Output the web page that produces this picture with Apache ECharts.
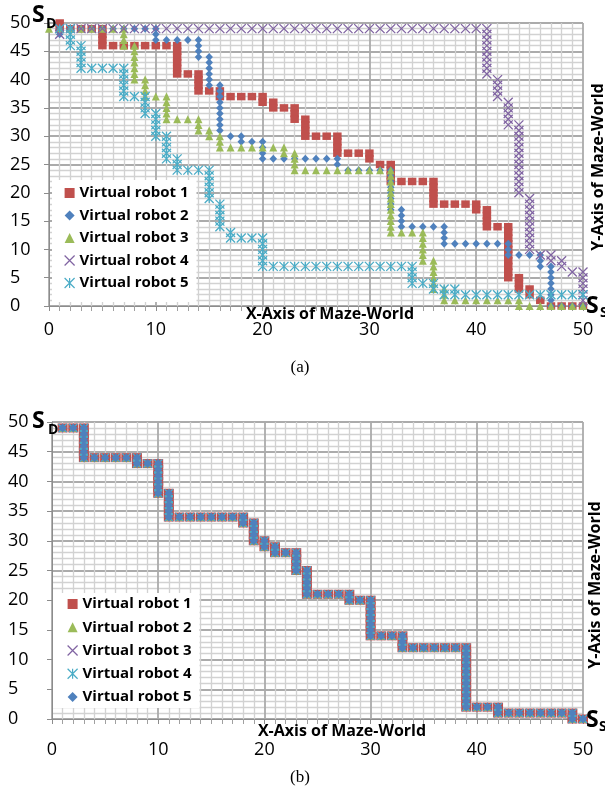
<!DOCTYPE html>
<html>
<head>
<meta charset="utf-8">
<script src="https://cdn.jsdelivr.net/npm/echarts@6/dist/echarts.min.js"></script>
<style>
html,body{margin:0;padding:0;background:#fff;}
#main{width:605px;height:794px;}
</style>
</head>
<body>
<div id="main"></div>
<script>
// ---------- DATA ----------
const xTicks = [0, 10, 20, 30, 40, 50];
const yTicks = [0, 5, 10, 15, 20, 25, 30, 35, 40, 45, 50];
const robotNamesA = ['Virtual robot 1', 'Virtual robot 2', 'Virtual robot 3', 'Virtual robot 4', 'Virtual robot 5'];
const robotNamesB = ['Virtual robot 1', 'Virtual robot 2', 'Virtual robot 3', 'Virtual robot 4', 'Virtual robot 5'];

// Panel (a): path cells visited by each robot [x, y]
const robotA1 = [[1,50],[1,49],[2,49],[3,49],[4,49],[5,49],[5,48],[5,47],[5,46],[6,46],[7,46],[8,46],[9,46],[10,46],[11,46],
 [12,46],[12,45],[12,44],[12,43],[12,42],[12,41],[13,41],[14,41],[14,40],[14,39],[14,38],[15,38],[16,38],[16,37],[17,37],
 [18,37],[19,37],[20,37],[20,36],[21,36],[21,35],[22,35],[23,35],[23,34],[23,33],[24,33],[24,32],[24,31],[24,30],[25,30],
 [26,30],[27,30],[27,29],[27,28],[27,27],[28,27],[29,27],[30,27],[30,26],[31,25],[32,25],[32,24],[32,23],[32,22],[33,22],
 [34,22],[35,22],[36,22],[36,21],[36,20],[36,19],[36,18],[37,18],[38,18],[39,18],[40,18],[40,17],[41,17],[41,16],[41,15],
 [41,14],[42,14],[43,14],[43,13],[43,12],[43,11],[43,10],[43,9],[43,8],[43,7],[43,6],[43,5],[44,5],[44,4],[44,3],[45,3],
 [45,2],[46,1],[47,0],[48,0],[49,0],[50,0]];
const robotA2 = [[1,49],[1,48],[2,49],[3,49],[4,49],[5,49],[6,49],[7,49],[8,49],[9,49],[10,49],[10,48],[10,47],[11,47],[12,47],
 [13,47],[14,47],[14,46],[14,45],[14,44],[15,44],[15,43],[15,42],[15,41],[15,40],[15,39],[16,39],[16,38],[16,37],[16,36],
 [16,35],[16,34],[16,33],[16,32],[16,31],[17,30],[18,30],[18,29],[19,29],[20,29],[20,28],[20,27],[20,26],[21,26],[22,26],
 [23,26],[24,26],[25,26],[26,26],[27,26],[27,25],[28,24],[29,24],[30,24],[31,24],[32,24],[32,23],[32,22],[32,21],[32,20],
 [32,19],[32,18],[32,17],[33,17],[33,16],[33,15],[33,14],[34,14],[35,14],[36,14],[37,14],[37,13],[37,12],[37,11],[38,11],
 [39,11],[40,11],[41,11],[42,11],[43,11],[43,10],[43,9],[44,9],[45,9],[46,9],[46,8],[46,7],[47,7],[47,6],[47,5],[47,4],
 [47,3],[47,2],[47,1],[47,0],[48,0],[49,0],[50,0]];
const robotA3 = [[0,49],[1,49],[2,49],[3,49],[4,49],[5,49],[6,49],[7,49],[7,48],[7,47],[7,46],[8,46],[8,45],[8,44],[8,43],
 [8,42],[8,41],[8,40],[9,40],[9,39],[9,38],[9,37],[10,37],[11,37],[11,36],[11,35],[11,34],[11,33],[12,33],[13,33],[14,33],
 [14,32],[14,31],[15,31],[15,30],[16,30],[16,29],[16,28],[17,28],[18,28],[19,28],[20,28],[21,28],[22,28],[22,27],[23,27],
 [23,26],[23,25],[23,24],[24,24],[25,24],[26,24],[27,24],[28,24],[29,24],[30,24],[31,24],[32,24],[32,23],[32,22],[32,21],
 [32,20],[32,19],[32,18],[32,17],[32,16],[32,15],[32,14],[32,13],[33,13],[34,13],[35,13],[35,12],[35,11],[35,10],[35,9],
 [35,8],[36,8],[36,7],[36,6],[36,5],[36,4],[36,3],[37,3],[37,2],[37,1],[38,1],[39,1],[40,1],[41,1],[42,1],[43,1],[44,1],
 [44,0],[45,0],[46,0],[47,0],[48,0],[49,0],[50,0]];
const robotA4 = [[1,48],[1,49],[2,49],[3,49],[4,49],[5,49],[6,49],[7,49],[8,49],[9,49],[10,49],[11,49],[12,49],[13,49],
 [14,49],[15,49],[16,49],[17,49],[18,49],[19,49],[20,49],[21,49],[22,49],[23,49],[24,49],[25,49],[26,49],[27,49],[28,49],
 [29,49],[30,49],[31,49],[32,49],[33,49],[34,49],[35,49],[36,49],[37,49],[38,49],[39,49],[40,49],[41,49],[41,48],[41,47],
 [41,46],[41,45],[41,44],[41,43],[41,42],[41,41],[42,40],[42,39],[42,38],[42,37],[43,36],[43,35],[43,34],[43,33],[43,32],
 [44,32],[44,31],[44,30],[44,29],[44,28],[44,27],[44,26],[44,25],[44,24],[44,23],[44,22],[44,21],[44,20],[45,19],[45,18],
 [45,17],[45,16],[45,15],[45,14],[45,13],[45,12],[45,11],[45,10],[46,9],[47,9],[47,8],[48,8],[48,7],[49,6],[50,6],[50,5],
 [50,4],[50,3],[50,2],[50,1]];
const robotA5 = [[1,49],[2,49],[2,48],[2,47],[2,46],[3,46],[3,45],[3,44],[3,43],[3,42],[4,42],[5,42],[6,42],[7,42],[7,41],
 [7,40],[7,39],[7,38],[7,37],[8,37],[9,37],[9,36],[9,35],[9,34],[10,34],[10,33],[10,32],[10,31],[10,30],[11,30],[11,29],
 [11,28],[11,27],[11,26],[12,26],[12,25],[12,24],[13,24],[14,24],[15,24],[15,23],[15,22],[15,21],[15,20],[15,19],[16,18],
 [16,17],[16,16],[16,15],[16,14],[17,13],[17,12],[18,12],[19,12],[20,12],[20,11],[20,10],[20,9],[20,8],[20,7],[21,7],
 [22,7],[23,7],[24,7],[25,7],[26,7],[27,7],[28,7],[29,7],[30,7],[31,7],[32,7],[33,7],[34,7],[34,6],[34,5],[34,4],[35,4],
 [36,4],[36,3],[37,3],[37,2],[38,3],[38,2],[39,2],[40,2],[41,2],[42,2],[43,2],[44,2],[45,2],[46,2],[47,2],[48,2],[49,2],
 [50,2]];

// Panel (b): all five robots follow the same path
const pathB = [[1,49],[2,49],[3,49],[3,48],[3,47],[3,46],[3,45],[3,44],[4,44],[5,44],[6,44],[7,44],[8,44],[8,43],[9,43],
 [10,43],[10,42],[10,41],[10,40],[10,39],[10,38],[11,38],[11,37],[11,36],[11,35],[11,34],[12,34],[13,34],[14,34],[15,34],
 [16,34],[17,34],[18,34],[18,33],[19,33],[19,32],[19,31],[19,30],[20,30],[20,29],[21,29],[21,28],[22,28],[23,28],[23,27],
 [23,26],[23,25],[24,25],[24,24],[24,23],[24,22],[24,21],[25,21],[26,21],[27,21],[28,21],[28,20],[29,20],[30,20],[30,19],
 [30,18],[30,17],[30,16],[30,15],[30,14],[31,14],[32,14],[33,14],[33,13],[33,12],[34,12],[35,12],[36,12],[37,12],[38,12],
 [39,12],[39,11],[39,10],[39,9],[39,8],[39,7],[39,6],[39,5],[39,4],[39,3],[39,2],[40,2],[41,2],[42,2],[42,1],[43,1],
 [44,1],[45,1],[46,1],[47,1],[48,1],[49,1],[49,0],[50,0]];
const robotB1 = pathB, robotB2 = pathB, robotB3 = pathB, robotB4 = pathB, robotB5 = pathB;

// ---------- STYLE ----------
const FONT = "'Open Sans', sans-serif";
const C = {red:'#C0504D', blue:'#4F81BD', green:'#9BBB59', purple:'#8064A2', cyan:'#4BACC6'};
const SYM_X = 'path://M0,0L10,10M10,0L0,10';
const SYM_STAR = 'path://M0,0L10,10M10,0L0,10M5,0L5,10';

function filled(color){ return {color: color, borderWidth: 0, opacity: 1}; }
function stroked(color){ return {color: 'rgba(0,0,0,0)', borderColor: color, borderWidth: 1.3, opacity: 1}; }

function makeAxes(gi, labelMarginX, labelMarginY){
  const x = {
    gridIndex: gi, type: 'value', min: 0, max: 50, interval: 10,
    axisLine: {show: true, onZero: false, lineStyle: {color: '#8c8c8c', width: 1}},
    axisTick: {show: true, length: 5, lineStyle: {color: '#8c8c8c'}},
    minorTick: {show: true, splitNumber: 10, length: 5, lineStyle: {color: '#a0a0a0'}},
    splitLine: {show: true, lineStyle: {color: '#ababab', width: 1.8}},
    minorSplitLine: {show: true, lineStyle: {color: '#d2d2d2', width: 1.3}},
    axisLabel: {margin: labelMarginX, fontSize: 18, color: '#000', fontFamily: FONT,
      formatter: v => xTicks.indexOf(v) >= 0 ? String(v) : ''}
  };
  const y = {
    gridIndex: gi, type: 'value', min: 0, max: 50, interval: 5,
    axisLine: {show: true, onZero: false, lineStyle: {color: '#8c8c8c', width: 1}},
    axisTick: {show: true, length: 5, lineStyle: {color: '#8c8c8c'}},
    minorTick: {show: false, splitNumber: 5},
    splitLine: {show: true, lineStyle: {color: '#ababab', width: 1.8}},
    minorSplitLine: {show: true, lineStyle: {color: '#d2d2d2', width: 1.3}},
    axisLabel: {margin: labelMarginY, align: 'left', fontSize: 18, color: '#000', fontFamily: FONT,
      formatter: v => yTicks.indexOf(v) >= 0 ? String(v) : ''}
  };
  return [x, y];
}
const [xA, yA] = makeAxes(0, 15, 39);
const [xB, yB] = makeAxes(1, 22, 44);

function sc(name, gi, data, symbol, size, style){
  return {name: name, type: 'scatter', xAxisIndex: gi, yAxisIndex: gi, data: data,
    symbol: symbol, symbolSize: size, itemStyle: style, silent: true, animation: false};
}

const seriesA = [
  sc(robotNamesA[0], 0, robotA1, 'rect', [8.5, 7.5], filled(C.red)),
  sc(robotNamesA[1], 0, robotA2, 'diamond', [7.5, 8], filled(C.blue)),
  sc(robotNamesA[2], 0, robotA3, 'triangle', [8, 8], filled(C.green)),
  sc(robotNamesA[3], 0, robotA4, SYM_X, [9, 9], stroked(C.purple)),
  sc(robotNamesA[4], 0, robotA5, SYM_STAR, [9, 9], stroked(C.cyan))
];
const PB = 'b:';
const seriesB = [
  sc(PB + robotNamesB[0], 1, robotB1, 'rect', [10, 9], filled(C.red)),
  sc(PB + robotNamesB[1], 1, robotB2, 'triangle', [8, 8], filled(C.green)),
  sc(PB + robotNamesB[2], 1, robotB3, SYM_X, [8, 8], stroked(C.purple)),
  sc(PB + robotNamesB[3], 1, robotB4, SYM_STAR, [8, 8], stroked(C.cyan)),
  sc(PB + robotNamesB[4], 1, robotB5, 'diamond', [8.5, 9], filled(C.blue))
];

function legendItems(names, prefix, symbols){
  return names.map((n, i) => ({
    name: prefix + n,
    icon: symbols[i],
    itemStyle: (symbols[i].indexOf('path://') === 0) ? {borderWidth: 1.2, opacity: 1} : {borderWidth: 0, opacity: 1}
  }));
}

const legendText = {fontSize: 15, fontWeight: 'bold', color: '#000', fontFamily: FONT, lineHeight: 18};

const txt = (x, y, text, size, opts) => Object.assign({
  type: 'text', x: x, y: y, z: 100,
  style: Object.assign({text: text, fontSize: size, fontFamily: FONT, fontWeight: 'bold', fill: '#000',
    align: 'left', verticalAlign: 'middle', textAlign: 'left', textVerticalAlign: 'middle'}, (opts && opts.style) || {})
}, (opts && opts.el) || {});

const option = {
  backgroundColor: '#fff',
  animation: false,
  grid: [
    {left: 49, top: 23, width: 534, height: 283, containLabel: false},
    {left: 52, top: 422, width: 531, height: 297, containLabel: false}
  ],
  xAxis: [xA, xB],
  yAxis: [yA, yB],
  legend: [
    {left: 52, top: 180, orient: 'vertical', backgroundColor: '#fff', padding: [4, 8, 10, 12],
     itemWidth: 10, itemHeight: 10, itemGap: 4.5, textStyle: legendText, selectedMode: false,
     data: legendItems(robotNamesA, '', ['rect', 'diamond', 'triangle', SYM_X, SYM_STAR])},
    {left: 53, top: 593, orient: 'vertical', backgroundColor: '#fff', padding: [2, 8, 2, 14],
     itemWidth: 10, itemHeight: 10, itemGap: 5.25, textStyle: legendText, selectedMode: false,
     formatter: n => n.slice(PB.length),
     data: legendItems(robotNamesB, PB, ['rect', 'triangle', SYM_X, SYM_STAR, 'diamond'])}
  ],
  graphic: {elements: [
    // panel (a)
    txt(32, 15, 'S', 23),
    txt(46, 24, 'D', 14),
    txt(586, 306, 'S', 23),
    txt(600, 313, 'S', 14),
    txt(330, 314, 'X-Axis of Maze-World', 16, {style: {align: 'center', textAlign: 'center'}}),
    txt(598, 167, 'Y-Axis of Maze-World', 16, {style: {align: 'center', textAlign: 'center'}, el: {rotation: Math.PI / 2}}),
    txt(300, 368, '(a)', 17, {style: {align: 'center', textAlign: 'center', fontWeight: 'normal', fontFamily: "'Liberation Serif', serif"}}),
    // panel (b)
    txt(32, 421, 'S', 23),
    txt(48, 430, 'D', 14),
    txt(586, 720, 'S', 23),
    txt(599, 727, 'S', 14),
    txt(342, 731, 'X-Axis of Maze-World', 16, {style: {align: 'center', textAlign: 'center'}}),
    txt(595, 585, 'Y-Axis of Maze-World', 16, {style: {align: 'center', textAlign: 'center'}, el: {rotation: Math.PI / 2}}),
    txt(300, 778, '(b)', 17, {style: {align: 'center', textAlign: 'center', fontWeight: 'normal', fontFamily: "'Liberation Serif', serif"}})
  ]},
  series: seriesA.concat(seriesB)
};

const chart = echarts.init(document.getElementById('main'), null, {renderer: 'canvas'});
chart.setOption(option);
</script>
</body>
</html>
